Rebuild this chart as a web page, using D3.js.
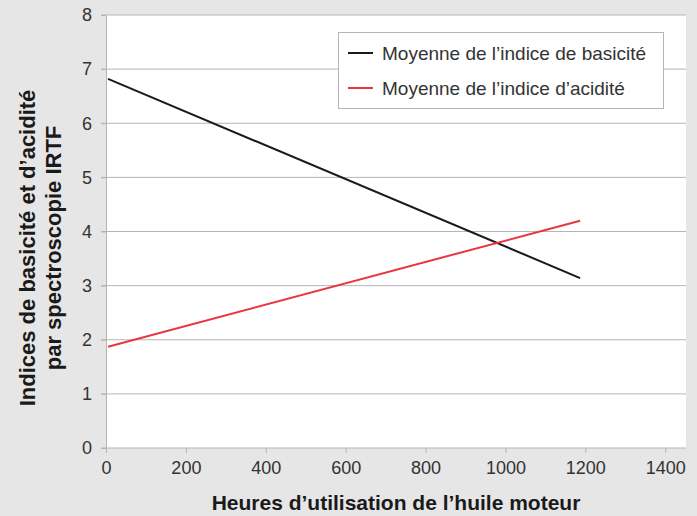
<!DOCTYPE html>
<meta charset="utf-8">
<style>
    body { margin: 0; background: #e6e6e7; }
    svg text { font-family: "Liberation Sans", Arial, sans-serif; }
    .axis text { font-size: 18px; fill: #333; }
</style>

<svg width="697" height="516"></svg>

<script src="https://cdn.jsdelivr.net/npm/d3@7/dist/d3.min.js"></script>

<script>
    // données
    var heures = [5, 1187],
        basicite = [6.82, 3.14],
        acidite = [1.87, 4.2],
        xTicks = [0, 200, 400, 600, 800, 1000, 1200, 1400],
        yTicks = [0, 1, 2, 3, 4, 5, 6, 7, 8],
        seriesNames = ["Moyenne de l\u2019indice de basicit\u00e9", "Moyenne de l\u2019indice d\u2019acidit\u00e9"],
        seriesColors = ["#1a1a1a", "#e8353f"];

    (function () {
        var svg = d3.select("svg"),
            left = 106, right = 686, top = 15, bottom = 448,
            xScale = d3.scaleLinear().domain([0, 1452]).range([left, right]),
            yScale = d3.scaleLinear().domain([0, 8]).range([bottom, top]);

        svg.append("rect")
            .attr("x", left).attr("y", top)
            .attr("width", right - left).attr("height", bottom - top)
            .attr("fill", "#fff");

        // grille horizontale
        svg.append("g")
            .selectAll("line")
            .data(yTicks.slice(1))
            .enter()
            .append("line")
            .attr("x1", left - 5).attr("x2", right)
            .attr("y1", function (d) { return yScale(d); })
            .attr("y2", function (d) { return yScale(d); })
            .attr("stroke", "#b5b5b5")
            .attr("stroke-width", 1);

        var xAxis = svg.append("g")
            .attr("class", "axis")
            .attr("transform", "translate(0," + bottom + ")")
            .call(d3.axisBottom(xScale).tickValues(xTicks).tickFormat(d3.format("d"))
                .tickSize(5).tickPadding(8).tickSizeOuter(0));
        xAxis.select(".domain").attr("stroke", "#b5b5b5").attr("d", "M" + (left - 5) + ",0H" + right);
        xAxis.selectAll(".tick line").attr("stroke", "#b5b5b5");

        var yAxis = svg.append("g")
            .attr("class", "axis")
            .attr("transform", "translate(" + left + ",0)")
            .call(d3.axisLeft(yScale).tickValues(yTicks).tickSize(5).tickPadding(9).tickSizeOuter(0));
        yAxis.select(".domain").attr("stroke", "#b5b5b5");
        yAxis.selectAll(".tick line").attr("stroke", "#b5b5b5");

        var line = d3.line()
            .x(function (d) { return xScale(d[0]); })
            .y(function (d) { return yScale(d[1]); });

        [basicite, acidite].forEach(function (vals, i) {
            svg.append("path")
                .datum(heures.map(function (h, j) { return [h, vals[j]]; }))
                .attr("d", line)
                .attr("fill", "none")
                .attr("stroke", seriesColors[i])
                .attr("stroke-width", 2);
        });

        // légende
        var legend = svg.append("g");
        legend.append("rect")
            .attr("x", 338.5).attr("y", 32.5)
            .attr("width", 325).attr("height", 76)
            .attr("fill", "#fff")
            .attr("stroke", "#b5b5b5");
        seriesNames.forEach(function (name, i) {
            var y = 53 + i * 35;
            legend.append("line")
                .attr("x1", 348).attr("x2", 373)
                .attr("y1", y).attr("y2", y)
                .attr("stroke", seriesColors[i])
                .attr("stroke-width", 2);
            legend.append("text")
                .attr("x", 382).attr("y", y + 7)
                .attr("font-size", 19)
                .attr("fill", "#333")
                .text(name);
        });

        // titres des axes
        svg.append("text")
            .attr("x", 396).attr("y", 510)
            .attr("text-anchor", "middle")
            .attr("font-size", 21)
            .attr("font-weight", "bold")
            .attr("fill", "#1a1a1a")
            .text("Heures d\u2019utilisation de l\u2019huile moteur");

        var yTitle = svg.append("text")
            .attr("transform", "translate(35,248) rotate(-90)")
            .attr("text-anchor", "middle")
            .attr("font-size", 22)
            .attr("font-weight", "bold")
            .attr("fill", "#1a1a1a");
        yTitle.append("tspan").attr("x", 0).attr("y", 0).text("Indices de basicit\u00e9 et d\u2019acidit\u00e9");
        yTitle.append("tspan").attr("x", 0).attr("y", 26).text("par spectroscopie IRTF");
    })();
</script>
